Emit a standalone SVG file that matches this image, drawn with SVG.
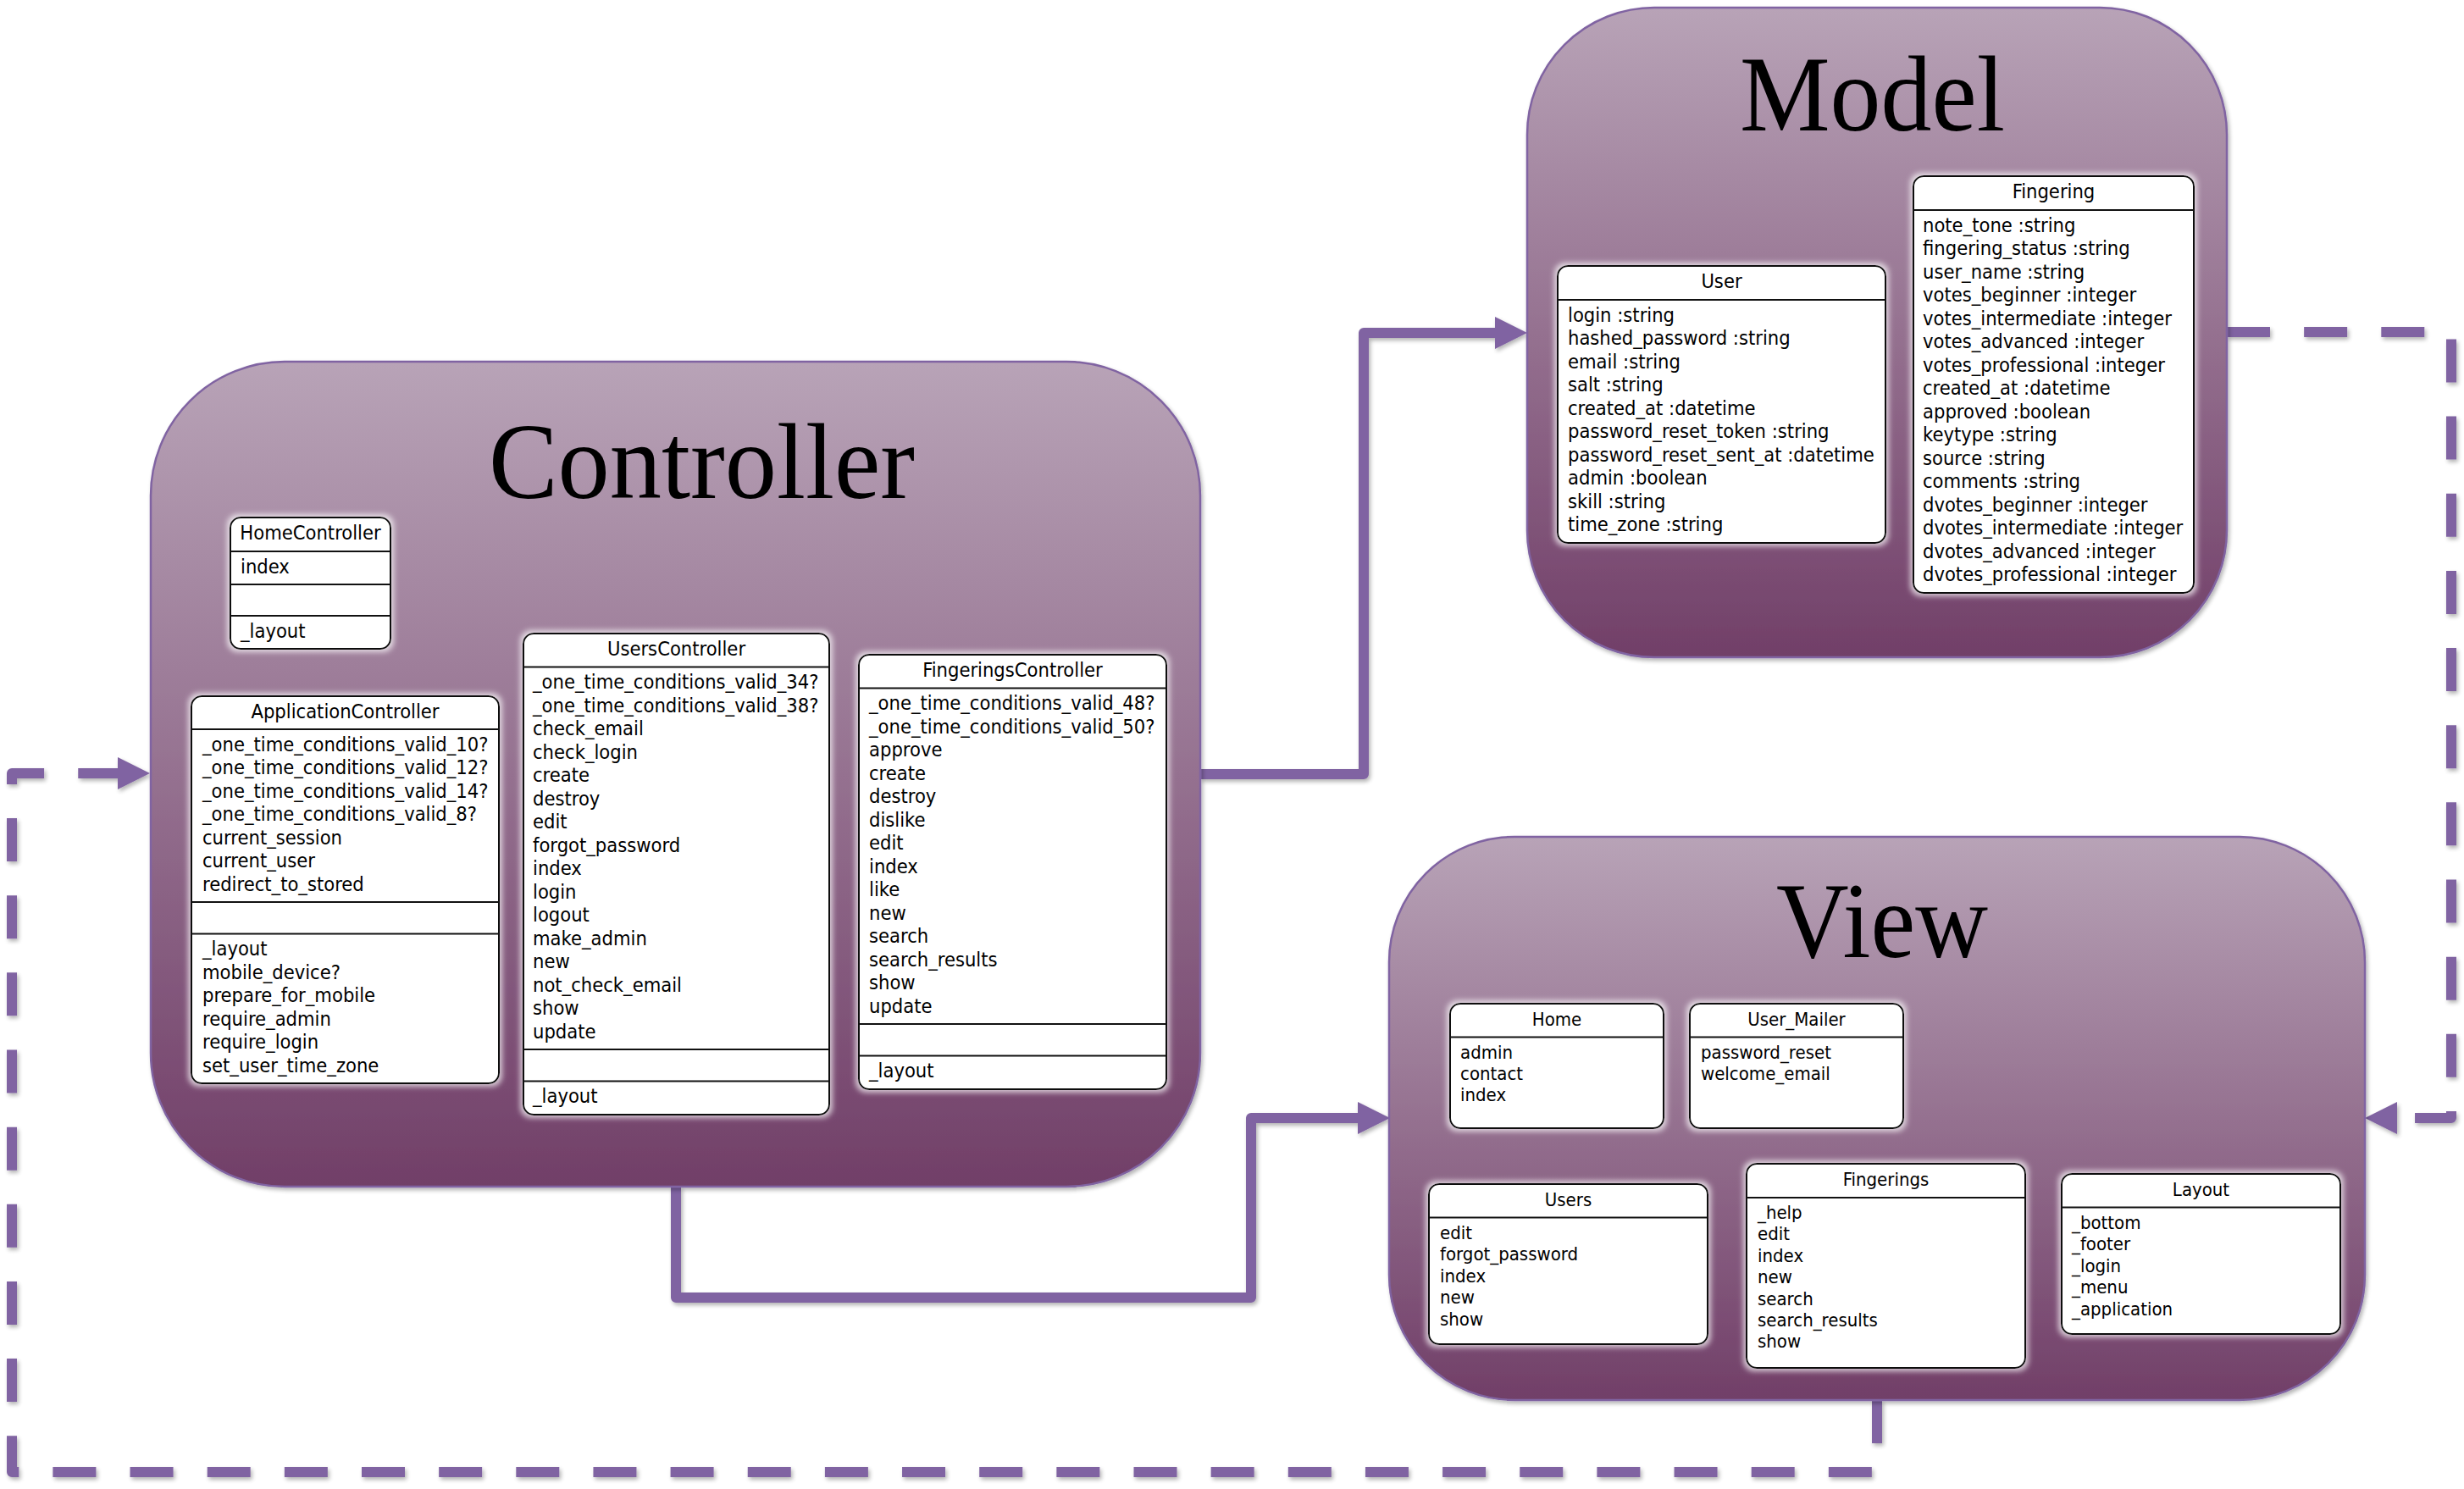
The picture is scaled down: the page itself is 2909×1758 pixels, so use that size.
<svg xmlns="http://www.w3.org/2000/svg" width="2909" height="1758" viewBox="0 0 2909 1758">
<defs>
<style>
.grp{fill:url(#grad);stroke:#8064A2;stroke-width:2.5;filter:url(#shadow)}
.box{fill:#ffffff;stroke:#111111;stroke-width:2;filter:url(#glow)}
.dv{stroke:#111111;stroke-width:2}
.t{font-family:"DejaVu Sans Condensed","DejaVu Sans",sans-serif;font-stretch:condensed;font-size:23.5px;fill:#000}
.tv{font-size:22px}
.h{text-anchor:middle}
.title{font-family:"Liberation Serif","Times New Roman",serif;font-size:126px;fill:#000}
.conn{fill:none;stroke:#8064A2;stroke-width:12;stroke-linejoin:round;marker-end:url(#arrow);filter:url(#cshadow)}
.dash{stroke-dasharray:51 40.15}
</style>
<linearGradient id="grad" x1="0" y1="0" x2="0" y2="1">
<stop offset="0" stop-color="#B8A3B7"/>
<stop offset="0.5" stop-color="#957190"/>
<stop offset="1" stop-color="#713F68"/>
</linearGradient>
<filter id="glow" x="-10%" y="-10%" width="120%" height="120%">
<feMorphology in="SourceAlpha" operator="dilate" radius="3" result="d"/>
<feGaussianBlur in="d" stdDeviation="3" result="b"/>
<feFlood flood-color="#ffffff" flood-opacity="0.7"/>
<feComposite in2="b" operator="in" result="g"/>
<feMerge><feMergeNode in="g"/><feMergeNode in="SourceGraphic"/></feMerge>
</filter>
<filter id="shadow" x="-5%" y="-5%" width="110%" height="110%">
<feGaussianBlur in="SourceAlpha" stdDeviation="2.5"/>
<feOffset dx="2" dy="3" result="o"/>
<feComponentTransfer in="o" result="s"><feFuncA type="linear" slope="0.3"/></feComponentTransfer>
<feMerge><feMergeNode in="s"/><feMergeNode in="SourceGraphic"/></feMerge>
</filter>
<filter id="cshadow" filterUnits="userSpaceOnUse" x="0" y="0" width="2909" height="1758">
<feGaussianBlur in="SourceAlpha" stdDeviation="2.5"/>
<feOffset dx="2" dy="3" result="o"/>
<feComponentTransfer in="o" result="s"><feFuncA type="linear" slope="0.3"/></feComponentTransfer>
<feMerge><feMergeNode in="s"/><feMergeNode in="SourceGraphic"/></feMerge>
</filter>
<marker id="arrow" markerUnits="userSpaceOnUse" markerWidth="40" markerHeight="40" refX="0" refY="19" orient="auto" overflow="visible">
<path d="M0,0 L38,19 L0,38 z" fill="#8064A2"/>
</marker>
</defs>
<rect width="2909" height="1758" fill="#ffffff"/>

<g id="connectors">
<path class="conn" d="M1417,914 H1610 V393 H1765"/>
<path class="conn" d="M798,1401 V1532 H1477 V1320 H1603"/>
<path class="conn dash" d="M2629,392 H2894 V1320 H2830"/>
<path class="conn dash" d="M2216,1653 V1738 H14 V913 H139"/>
</g>

<g id="Controller">
<rect class="grp" x="178" y="427" width="1239" height="974" rx="158" ry="158"/>
<text class="title" x="577" y="588" textLength="503" lengthAdjust="spacingAndGlyphs">Controller</text>

<g id="HomeController">
<rect class="box" x="272" y="611" width="189" height="155" rx="12" ry="12"/>
<line class="dv" x1="272" y1="651" x2="461" y2="651"/>
<line class="dv" x1="272" y1="690" x2="461" y2="690"/>
<line class="dv" x1="272" y1="727" x2="461" y2="727"/>
<text class="t h" x="366.5" y="637">HomeController</text>
<text class="t" x="284" y="676.5">index</text>
<text class="t" x="284" y="752.5">_layout</text>
</g>

<g id="ApplicationController">
<rect class="box" x="226" y="822" width="363" height="457" rx="12" ry="12"/>
<line class="dv" x1="226" y1="861" x2="589" y2="861"/>
<line class="dv" x1="226" y1="1065" x2="589" y2="1065"/>
<line class="dv" x1="226" y1="1102.5" x2="589" y2="1102.5"/>
<text class="t h" x="407.5" y="848">ApplicationController</text>
<text class="t">
<tspan x="239" y="886.5">_one_time_conditions_valid_10?</tspan>
<tspan x="239" y="914">_one_time_conditions_valid_12?</tspan>
<tspan x="239" y="941.5">_one_time_conditions_valid_14?</tspan>
<tspan x="239" y="969">_one_time_conditions_valid_8?</tspan>
<tspan x="239" y="996.5">current_session</tspan>
<tspan x="239" y="1024">current_user</tspan>
<tspan x="239" y="1051.5">redirect_to_stored</tspan>
</text>
<text class="t">
<tspan x="239" y="1128">_layout</tspan>
<tspan x="239" y="1155.5">mobile_device?</tspan>
<tspan x="239" y="1183">prepare_for_mobile</tspan>
<tspan x="239" y="1210.5">require_admin</tspan>
<tspan x="239" y="1238">require_login</tspan>
<tspan x="239" y="1265.5">set_user_time_zone</tspan>
</text>
</g>

<g id="UsersController">
<rect class="box" x="618" y="748" width="361" height="568" rx="12" ry="12"/>
<line class="dv" x1="618" y1="787.5" x2="979" y2="787.5"/>
<line class="dv" x1="618" y1="1239" x2="979" y2="1239"/>
<line class="dv" x1="618" y1="1276.5" x2="979" y2="1276.5"/>
<text class="t h" x="798.5" y="774">UsersController</text>
<text class="t">
<tspan x="629" y="813">_one_time_conditions_valid_34?</tspan>
<tspan x="629" y="840.5">_one_time_conditions_valid_38?</tspan>
<tspan x="629" y="868">check_email</tspan>
<tspan x="629" y="895.5">check_login</tspan>
<tspan x="629" y="923">create</tspan>
<tspan x="629" y="950.5">destroy</tspan>
<tspan x="629" y="978">edit</tspan>
<tspan x="629" y="1005.5">forgot_password</tspan>
<tspan x="629" y="1033">index</tspan>
<tspan x="629" y="1060.5">login</tspan>
<tspan x="629" y="1088">logout</tspan>
<tspan x="629" y="1115.5">make_admin</tspan>
<tspan x="629" y="1143">new</tspan>
<tspan x="629" y="1170.5">not_check_email</tspan>
<tspan x="629" y="1198">show</tspan>
<tspan x="629" y="1225.5">update</tspan>
</text>
<text class="t" x="629" y="1302">_layout</text>
</g>

<g id="FingeringsController">
<rect class="box" x="1014" y="773" width="363" height="513" rx="12" ry="12"/>
<line class="dv" x1="1014" y1="812.5" x2="1377" y2="812.5"/>
<line class="dv" x1="1014" y1="1209" x2="1377" y2="1209"/>
<line class="dv" x1="1014" y1="1246.5" x2="1377" y2="1246.5"/>
<text class="t h" x="1195.5" y="799">FingeringsController</text>
<text class="t">
<tspan x="1026" y="838">_one_time_conditions_valid_48?</tspan>
<tspan x="1026" y="865.5">_one_time_conditions_valid_50?</tspan>
<tspan x="1026" y="893">approve</tspan>
<tspan x="1026" y="920.5">create</tspan>
<tspan x="1026" y="948">destroy</tspan>
<tspan x="1026" y="975.5">dislike</tspan>
<tspan x="1026" y="1003">edit</tspan>
<tspan x="1026" y="1030.5">index</tspan>
<tspan x="1026" y="1058">like</tspan>
<tspan x="1026" y="1085.5">new</tspan>
<tspan x="1026" y="1113">search</tspan>
<tspan x="1026" y="1140.5">search_results</tspan>
<tspan x="1026" y="1168">show</tspan>
<tspan x="1026" y="1195.5">update</tspan>
</text>
<text class="t" x="1026" y="1272">_layout</text>
</g>
</g>

<g id="Model">
<rect class="grp" x="1803" y="9" width="826" height="767" rx="150" ry="150"/>
<text class="title" x="2054" y="154" textLength="313" lengthAdjust="spacingAndGlyphs">Model</text>

<g id="User">
<rect class="box" x="1839" y="314" width="387" height="327" rx="12" ry="12"/>
<line class="dv" x1="1839" y1="354" x2="2226" y2="354"/>
<text class="t h" x="2032.5" y="340">User</text>
<text class="t">
<tspan x="1851" y="379.5">login :string</tspan>
<tspan x="1851" y="407">hashed_password :string</tspan>
<tspan x="1851" y="434.5">email :string</tspan>
<tspan x="1851" y="462">salt :string</tspan>
<tspan x="1851" y="489.5">created_at :datetime</tspan>
<tspan x="1851" y="517">password_reset_token :string</tspan>
<tspan x="1851" y="544.5">password_reset_sent_at :datetime</tspan>
<tspan x="1851" y="572">admin :boolean</tspan>
<tspan x="1851" y="599.5">skill :string</tspan>
<tspan x="1851" y="627">time_zone :string</tspan>
</text>
</g>

<g id="Fingering">
<rect class="box" x="2259" y="208" width="331" height="492" rx="12" ry="12"/>
<line class="dv" x1="2259" y1="248" x2="2590" y2="248"/>
<text class="t h" x="2424.5" y="234">Fingering</text>
<text class="t">
<tspan x="2270" y="273.5">note_tone :string</tspan>
<tspan x="2270" y="301">fingering_status :string</tspan>
<tspan x="2270" y="328.5">user_name :string</tspan>
<tspan x="2270" y="356">votes_beginner :integer</tspan>
<tspan x="2270" y="383.5">votes_intermediate :integer</tspan>
<tspan x="2270" y="411">votes_advanced :integer</tspan>
<tspan x="2270" y="438.5">votes_professional :integer</tspan>
<tspan x="2270" y="466">created_at :datetime</tspan>
<tspan x="2270" y="493.5">approved :boolean</tspan>
<tspan x="2270" y="521">keytype :string</tspan>
<tspan x="2270" y="548.5">source :string</tspan>
<tspan x="2270" y="576">comments :string</tspan>
<tspan x="2270" y="603.5">dvotes_beginner :integer</tspan>
<tspan x="2270" y="631">dvotes_intermediate :integer</tspan>
<tspan x="2270" y="658.5">dvotes_advanced :integer</tspan>
<tspan x="2270" y="686">dvotes_professional :integer</tspan>
</text>
</g>
</g>

<g id="View">
<rect class="grp" x="1640" y="988" width="1152" height="665" rx="148" ry="148"/>
<text class="title" x="2097" y="1130" textLength="250" lengthAdjust="spacingAndGlyphs">View</text>

<g id="Home">
<rect class="box" x="1712" y="1185" width="252" height="147" rx="12" ry="12"/>
<line class="dv" x1="1712" y1="1224.5" x2="1964" y2="1224.5"/>
<text class="t tv h" x="1838" y="1211">Home</text>
<text class="t tv">
<tspan x="1724" y="1249.5">admin</tspan>
<tspan x="1724" y="1274.9">contact</tspan>
<tspan x="1724" y="1300.3">index</tspan>
</text>
</g>

<g id="User_Mailer">
<rect class="box" x="1995" y="1185" width="252" height="147" rx="12" ry="12"/>
<line class="dv" x1="1995" y1="1224.5" x2="2247" y2="1224.5"/>
<text class="t tv h" x="2121" y="1211">User_Mailer</text>
<text class="t tv">
<tspan x="2008" y="1249.5">password_reset</tspan>
<tspan x="2008" y="1274.9">welcome_email</tspan>
</text>
</g>

<g id="Users">
<rect class="box" x="1687" y="1398" width="329" height="189" rx="12" ry="12"/>
<line class="dv" x1="1687" y1="1437.6" x2="2016" y2="1437.6"/>
<text class="t tv h" x="1851.5" y="1424">Users</text>
<text class="t tv">
<tspan x="1700" y="1463">edit</tspan>
<tspan x="1700" y="1488.4">forgot_password</tspan>
<tspan x="1700" y="1513.8">index</tspan>
<tspan x="1700" y="1539.2">new</tspan>
<tspan x="1700" y="1564.6">show</tspan>
</text>
</g>

<g id="Fingerings">
<rect class="box" x="2062" y="1374" width="329" height="241" rx="12" ry="12"/>
<line class="dv" x1="2062" y1="1414" x2="2391" y2="1414"/>
<text class="t tv h" x="2226.5" y="1400">Fingerings</text>
<text class="t tv">
<tspan x="2075" y="1439">_help</tspan>
<tspan x="2075" y="1464.4">edit</tspan>
<tspan x="2075" y="1489.8">index</tspan>
<tspan x="2075" y="1515.2">new</tspan>
<tspan x="2075" y="1540.6">search</tspan>
<tspan x="2075" y="1566">search_results</tspan>
<tspan x="2075" y="1591.4">show</tspan>
</text>
</g>

<g id="Layout">
<rect class="box" x="2434" y="1386" width="329" height="189" rx="12" ry="12"/>
<line class="dv" x1="2434" y1="1425.6" x2="2763" y2="1425.6"/>
<text class="t tv h" x="2598.5" y="1412">Layout</text>
<text class="t tv">
<tspan x="2446" y="1451">_bottom</tspan>
<tspan x="2446" y="1476.4">_footer</tspan>
<tspan x="2446" y="1501.8">_login</tspan>
<tspan x="2446" y="1527.2">_menu</tspan>
<tspan x="2446" y="1552.6">_application</tspan>
</text>
</g>
</g>
</svg>
